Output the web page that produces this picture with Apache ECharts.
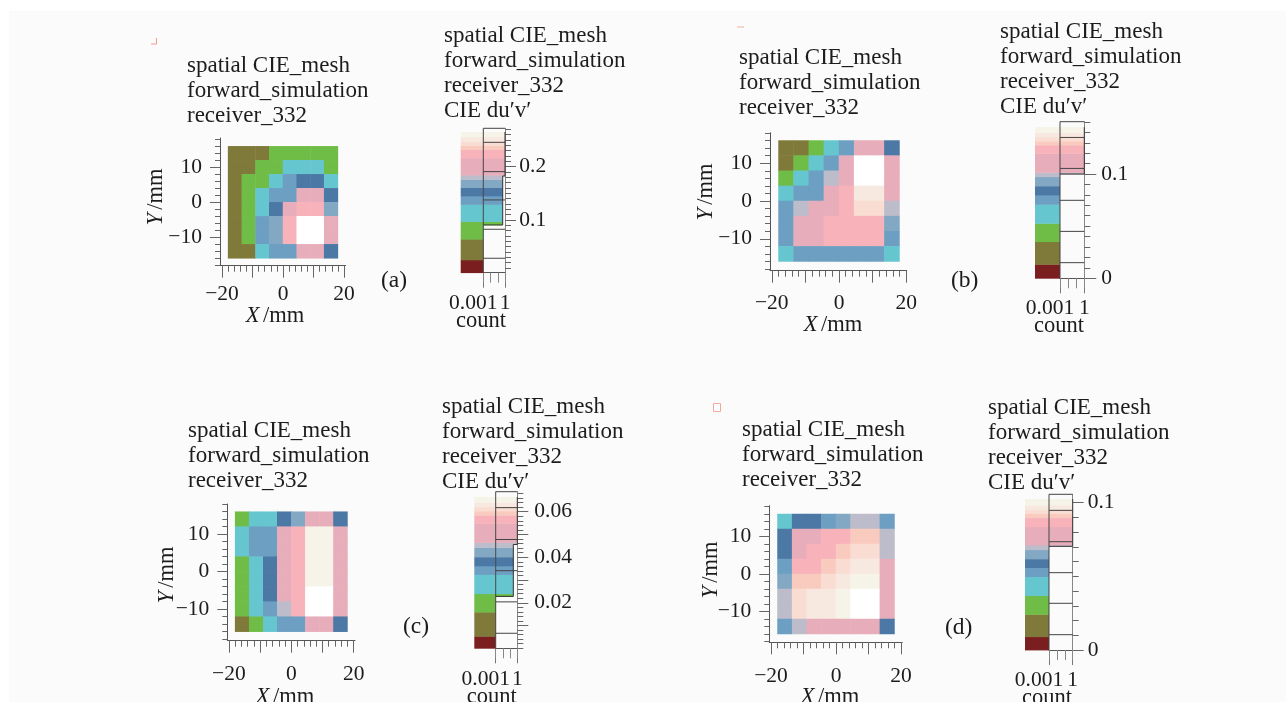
<!DOCTYPE html>
<html><head><meta charset="utf-8">
<style>html,body{margin:0;padding:0;background:#fff;overflow:hidden}#c{width:1286px;height:702px}</style>
<script src="https://cdn.jsdelivr.net/npm/echarts@6/dist/echarts.min.js"></script>
</head><body><div id="c"></div>
<script>
// colour levels of the du'v' scale, bottom to top
const palette = ['#7a1e20','#7f7a3a','#6fbd47','#65c6cf','#6c9fc2','#4b78a4','#83a8c4','#bcbccb','#e8adba','#f7b2ba','#f9cabe','#f9dcd2','#f8e9e0','#f6f3e8','#ffffff'];
// heat map cells: level index per cell, rows from top
const xCells = ['-15.75','-11.25','-6.75','-2.25','2.25','6.75','11.25','15.75'];
const yCells = ['14','10','6','2','-2','-6','-10','-14'];
const cellsA = [[1,1,1,2,2,2,2,2],[1,1,2,2,3,3,3,2],[1,2,2,3,4,5,5,3],[1,2,3,4,4,8,8,5],[1,2,3,5,8,9,9,6],[1,2,4,6,9,14,14,8],[1,2,4,6,9,14,14,8],[1,1,3,4,4,8,8,5]];
const cellsB = [[1,1,2,3,4,8,8,5],[1,2,3,4,8,14,14,8],[2,3,4,7,8,14,14,8],[3,4,4,8,9,12,12,8],[4,7,8,8,9,11,11,7],[4,8,8,9,9,9,9,6],[4,8,8,9,9,9,9,4],[3,4,4,4,4,4,4,3]];
const cellsC = [[2,3,3,5,6,8,8,5],[3,4,4,8,9,13,13,8],[3,4,4,8,9,13,13,8],[2,3,5,8,9,13,13,8],[2,3,5,8,9,13,13,8],[2,3,5,8,9,14,14,8],[2,3,4,7,9,14,14,8],[1,2,3,4,4,8,8,5]];
const cellsD = [[3,5,5,4,6,7,7,4],[5,8,8,9,9,10,10,7],[5,8,9,9,10,11,11,7],[4,9,9,10,11,12,12,8],[6,10,10,11,12,13,13,8],[7,11,12,12,13,14,14,8],[7,11,12,12,13,14,14,8],[4,7,8,8,8,8,8,5]];
// colour bar band edges (du'v')
const bandsA = [0.001,0.025,0.064,0.097,0.129,0.145,0.161,0.176,0.184,0.216,0.2325,0.24,0.2475,0.256,0.265];
const bandsB = [0,0.0134,0.0351,0.0527,0.0709,0.0799,0.0885,0.0974,0.1016,0.1198,0.1278,0.1316,0.1355,0.1399,0.145];
const bandsC = [0,0.0053,0.0159,0.024,0.0324,0.0362,0.0401,0.0443,0.0465,0.0549,0.0585,0.0603,0.0621,0.0641,0.0665];
const bandsD = [0,0.009,0.0242,0.0369,0.0498,0.0559,0.0618,0.0681,0.0713,0.0837,0.0898,0.0925,0.0952,0.0984,0.1025];
// histogram bin edges (du'v')
const binsA = [0.0281,0.0825,0.1375,0.1906,0.2456];
const binsB = [0.015,0.045,0.0748,0.1054,0.1351];
const binsC = [0.0066,0.0204,0.0341,0.0478,0.0618];
const binsD = [0.0104,0.0317,0.0525,0.0735,0.0948];
// histogram filled spans: [from, to, count]
const histA = [[0.0906,0.1825,0.48],[0.1825,0.265,1]];
const histB = [[0.1,0.145,1]];
const histC = [[0.0228,0.0456,0.28],[0.0456,0.0665,1]];
const histD = [[0.0704,0.1025,1]];
// tick values
const ticksXMajor = [-20,-10,0,10,20], labelsX = [-20,0,20];
const ticksMinorMm = [-20,-18,-16,-14,-12,-10,-8,-6,-4,-2,0,2,4,6,8,10,12,14,16,18,20];
const ticksYMajor = [-10,0,10], labelsY = [-10,0,10];
const countTicks = [0.001,0.01,0.1,1], countMajor = [0.001,1];
const textLeft = ['spatial CIE_mesh','forward_simulation','receiver_332'];
const textRight = ['spatial CIE_mesh','forward_simulation','receiver_332','CIE du\u2032v\u2032'];

const panels = [
 {tag:'(a)',tagPos:[381,281],cells:cellsA,bands:bandsA,bins:binsA,hist:histA,
  map:{l:220,r:345.7,t:138,b:265.7,x0:283,sx:3.05,y0:202.3,sy:3.5,xm:18,xn:[275,316],yn:[156,197]},
  bar:{s0:460.7,s1:483.3,b1:505,t:128.3,b:272.7,min:0.001,max:0.2719,maj:[0.1,0.2],lab:[0.1,0.2],minor:[0.01,0.27,0.01],ml:14.3,tl:11,xm:20,c:[481,321]},
  left:[187,65.5],right:[444,36]},
 {tag:'(b)',tagPos:[951,281],cells:cellsB,bands:bandsB,bins:binsB,hist:histB,
  map:{l:770,r:906.7,t:132.7,b:270.7,x0:839,sx:3.36,y0:201,sy:3.78,xm:22,xn:[833,325],yn:[706,192]},
  bar:{s0:1035,s1:1060,b1:1084.3,t:121.7,b:278.3,min:0,max:0.1502,maj:[0,0.1],lab:[0,0.1],minor:[0,0.15,0.01],ml:17,tl:12,xm:19,c:[1059,326]},
  left:[739,58],right:[1000,32]},
 {tag:'(c)',tagPos:[403,627],cells:cellsC,bands:bandsC,bins:binsC,hist:histC,
  map:{l:227.3,r:355,t:504,b:640.7,x0:291.3,sx:3.12,y0:571.7,sy:3.75,xm:23,xn:[285,697],yn:[167,575]},
  bar:{s0:474.3,s1:495.7,b1:517.3,t:491.7,b:648.3,min:0,max:0.0688,maj:[0.01,0.02,0.03,0.04,0.05,0.06],lab:[0.02,0.04,0.06],minor:[0,0.068,0.002],ml:17,tl:11,xm:20,c:[491.7,697]},
  left:[188,431],right:[442,407]},
 {tag:'(d)',tagPos:[945,628],cells:cellsD,bands:bandsD,bins:binsD,hist:histD,
  map:{l:769.3,r:902.3,t:505.7,b:642.3,x0:836,sx:3.25,y0:574,sy:3.75,xm:23,xn:[830,697],yn:[711,570]},
  bar:{s0:1025,s1:1049,b1:1072.7,t:494.3,b:650,min:0,max:0.1057,maj:[0,0.1],lab:[0,0.1],minor:[0,0.105,0.01],ml:15,tl:11,xm:19,c:[1047,698]},
  left:[742,430],right:[988,408]}
];

const serif = '"Liberation Serif", serif';
const ink = '#1c1c1c', tickColor = '#666', tickSize = 21.5, textSize = 23;
const grid=[], xAxis=[], yAxis=[], series=[], graphic=[];
const addGrid=(l,t,r,b)=>{grid.push({left:l,top:t,width:r-l,height:b-t,outerBoundsMode:'none'});return grid.length-1;};
const seq=(a,b,s)=>{const o=[];for(let i=0;Math.round(a*1e6+i*s*1e6)<=Math.round(b*1e6);i++)o.push(+(a+i*s).toFixed(5));return o;};
const minus=v=>String(v).replace('-','\u2212');
const line=(c,w)=>({lineStyle:{color:c,width:w||1}});

graphic.push({type:'rect',z:-10,shape:{x:9,y:11,width:1277,height:691},style:{fill:'#fbfbfb'}});
graphic.push({type:'polyline',shape:{points:[[151,44],[156.5,44],[156.5,38]]},style:{stroke:'#f09a8c',fill:null,lineWidth:1}});
graphic.push({type:'line',shape:{x1:737,y1:27,x2:744,y2:27},style:{stroke:'#f7c9bd',lineWidth:1.5}});
graphic.push({type:'rect',shape:{x:713.5,y:403.5,width:7,height:8},style:{stroke:'#f4a79a',fill:'#fff',lineWidth:1}});
const text=(x,y,t,size,align)=>graphic.push({type:'text',z:20,style:{x,y,text:t,fill:ink,font:size+'px '+serif,textAlign:align||'left',textVerticalAlign:'middle'}});

panels.forEach((p,pi)=>{
  const m=p.map, b=p.bar;
  // heat map on its own band axes, sized by the mm scale
  const gi=addGrid(m.x0-18*m.sx,m.y0-16*m.sy,m.x0+18*m.sx,m.y0+16*m.sy);
  const hx=xAxis.length, hy=yAxis.length;
  xAxis.push({type:'category',gridIndex:gi,data:xCells,show:false});
  yAxis.push({type:'category',gridIndex:gi,data:yCells,inverse:true,show:false});
  const hdata=[]; p.cells.forEach((row,r)=>row.forEach((v,c)=>hdata.push([c,r,v])));
  series.push({type:'heatmap',xAxisIndex:hx,yAxisIndex:hy,data:hdata,itemStyle:{borderWidth:0},emphasis:{disabled:true},progressive:0,silent:true});

  // visible mm axes
  const ga=addGrid(m.l,m.t,m.r,m.b);
  const lab={color:ink,fontFamily:serif,fontSize:tickSize};
  const xmin=(m.l-m.x0)/m.sx, xmax=(m.r-m.x0)/m.sx, ymax=(m.y0-m.t)/m.sy, ymin=-(m.b-m.y0)/m.sy;
  const rich={i:{fontStyle:'italic',fontFamily:serif,fontSize:tickSize+1,color:ink},n:{fontFamily:serif,fontSize:tickSize+1,color:ink}};
  const xc=(m.l+m.r)/2, yc=(m.t+m.b)/2, yShift=2*(yc-m.yn[1]);
  xAxis.push({type:'value',gridIndex:ga,min:xmin,max:xmax,position:'bottom',scale:true,splitLine:{show:false},
    axisLine:{show:true,onZero:false,...line('#555')},axisTick:{show:true,length:12,customValues:ticksXMajor,...line(tickColor)},
    axisLabel:{...lab,customValues:labelsX,margin:m.xm,hideOverlap:false,formatter:minus},
    name:'{i|X} {n|/mm}',nameLocation:'middle',nameGap:m.xn[1]-m.b,nameMoveOverlap:false,
    nameTextStyle:{rich,verticalAlign:'middle',padding:[0,Math.max(0,2*(xc-m.xn[0])),0,0]}});
  xAxis.push({type:'value',gridIndex:ga,min:xmin,max:xmax,position:'bottom',splitLine:{show:false},
    axisLine:{show:false,onZero:false},axisTick:{show:true,length:6,customValues:ticksMinorMm,...line(tickColor)},axisLabel:{show:false}});
  yAxis.push({type:'value',gridIndex:ga,min:ymin,max:ymax,position:'left',scale:true,splitLine:{show:false},
    axisLine:{show:true,onZero:false,...line('#555')},axisTick:{show:true,length:10,customValues:ticksYMajor,...line(tickColor)},
    axisLabel:{...lab,customValues:labelsY,margin:18,hideOverlap:false,padding:[3,0,0,0],formatter:minus},
    name:'{i|Y} {n|/mm}',nameLocation:'middle',nameRotate:90,nameGap:m.l-m.yn[0],nameMoveOverlap:false,
    nameTextStyle:{rich,verticalAlign:'middle',padding:[0,Math.max(0,-yShift),0,Math.max(0,yShift)]}});
  yAxis.push({type:'value',gridIndex:ga,min:ymin,max:ymax,position:'left',splitLine:{show:false},
    axisLine:{show:false,onZero:false},axisTick:{show:true,length:5,customValues:ticksMinorMm.filter(v=>v>=-18&&v<=18),...line(tickColor)},axisLabel:{show:false}});

  // colour strip
  const gs=addGrid(b.s0,b.t,b.s1,b.b);
  const sx=xAxis.length, sy=yAxis.length;
  xAxis.push({type:'value',gridIndex:gs,min:0,max:1,show:false});
  yAxis.push({type:'value',gridIndex:gs,min:b.min,max:b.max,show:false});
  const bandData=p.bands.slice(0,-1).map((lo,i)=>[lo,p.bands[i+1],i]);
  series.push({type:'custom',xAxisIndex:sx,yAxisIndex:sy,silent:true,data:bandData,encode:{y:[0,1]},clip:false,
    renderItem:(pr,api)=>{const a=api.coord([0,api.value(0)]),c=api.coord([1,api.value(1)]);
      return {type:'rect',shape:{x:a[0],y:c[1],width:c[0]-a[0],height:a[1]-c[1]+0.4},style:{fill:palette[api.value(2)]}};}});

  // log count histogram
  const gh=addGrid(b.s1,b.t,b.b1,b.b);
  const cx=xAxis.length, cy=yAxis.length;
  const logX={type:'log',logBase:10,gridIndex:gh,min:0.001,max:1,position:'bottom',splitLine:{show:false}};
  xAxis.push({...logX,axisLine:{show:true,onZero:false,...line('#555')},axisTick:{show:true,length:15,customValues:countMajor,...line('#777')},
    axisLabel:{...lab,customValues:countMajor,margin:b.xm,hideOverlap:false,showMinLabel:true,showMaxLabel:true,
      formatter:v=>v<0.5?'{a|0.001}':'1',rich:{a:{padding:[0,20,0,0],fontFamily:serif,fontSize:tickSize,color:ink}}}});
  xAxis.push({...logX,axisLine:{show:false,onZero:false},axisTick:{show:true,length:10,customValues:countTicks,...line('#888')},axisLabel:{show:false}});
  yAxis.push({type:'value',gridIndex:gh,min:b.min,max:b.max,position:'right',splitLine:{show:false},
    axisLine:{show:true,onZero:false,...line('#888')},axisTick:{show:true,length:b.tl,customValues:b.maj,...line(tickColor)},
    axisLabel:{...lab,customValues:b.lab,margin:b.ml,hideOverlap:false,padding:[3,0,0,0],formatter:v=>String(+v.toFixed(3))}});
  yAxis.push({type:'value',gridIndex:gh,min:b.min,max:b.max,position:'right',splitLine:{show:false},
    axisLine:{show:false,onZero:false},axisTick:{show:true,length:6,customValues:seq(b.minor[0],b.minor[1],b.minor[2]),...line(tickColor)},axisLabel:{show:false}});

  const fill=[];
  bandData.forEach(([lo,hi,lev])=>p.hist.forEach(([f,t,n])=>{const a=Math.max(lo,f),c=Math.min(hi,t);if(c>a)fill.push([a,c,n,lev]);}));
  series.push({type:'custom',xAxisIndex:cx,yAxisIndex:cy,silent:true,data:fill,encode:{x:2,y:[0,1]},
    renderItem:(pr,api)=>{const a=api.coord([0.001,api.value(0)]),c=api.coord([api.value(2),api.value(1)]);
      return {type:'rect',shape:{x:a[0],y:c[1],width:c[0]-a[0],height:a[1]-c[1]+0.4},style:{fill:palette[api.value(3)]}};}});
  // step outline of the filled part
  const steps=[]; const h=p.hist;
  steps.push([0.001,h[0][0]]);
  h.forEach(([f,t,n])=>{steps.push([n,f]);steps.push([n,t]);});
  series.push({type:'line',xAxisIndex:cx,yAxisIndex:cy,silent:true,symbol:'none',data:steps,lineStyle:{color:'#333',width:1}});
  // bin edges and frame
  const segs=p.bins.map(v=>[0.001,v,1,v]);
  segs.push([0.001,b.max,1,b.max]);
  segs.push([0.001,b.min,0.001,b.max]);
  series.push({type:'custom',xAxisIndex:cx,yAxisIndex:cy,silent:true,data:segs,encode:{x:[0,2],y:[1,3]},
    renderItem:(pr,api)=>{const a=api.coord([api.value(0),api.value(1)]),c=api.coord([api.value(2),api.value(3)]);
      return {type:'line',shape:{x1:a[0],y1:a[1],x2:c[0],y2:c[1]},style:{stroke:'#444',lineWidth:1}};}});

  textLeft.forEach((t,i)=>text(p.left[0],p.left[1]+i*25,t,textSize));
  textRight.forEach((t,i)=>text(p.right[0],p.right[1]+i*25,t,textSize));
  text(p.tagPos[0],p.tagPos[1],p.tag,tickSize+2);
  text(b.c[0],b.c[1],'count',tickSize+1,'center');
});

const chart=echarts.init(document.getElementById('c'),null,{renderer:'canvas'});
chart.setOption({animation:false,backgroundColor:'#fff',tooltip:{show:false},grid,xAxis,yAxis,series,graphic,
  visualMap:{type:'piecewise',show:false,seriesIndex:series.map((s,i)=>s.type==='heatmap'?i:-1).filter(i=>i>=0),dimension:2,
    pieces:palette.map((c,i)=>({value:i,color:c}))}});
</script></body></html>
